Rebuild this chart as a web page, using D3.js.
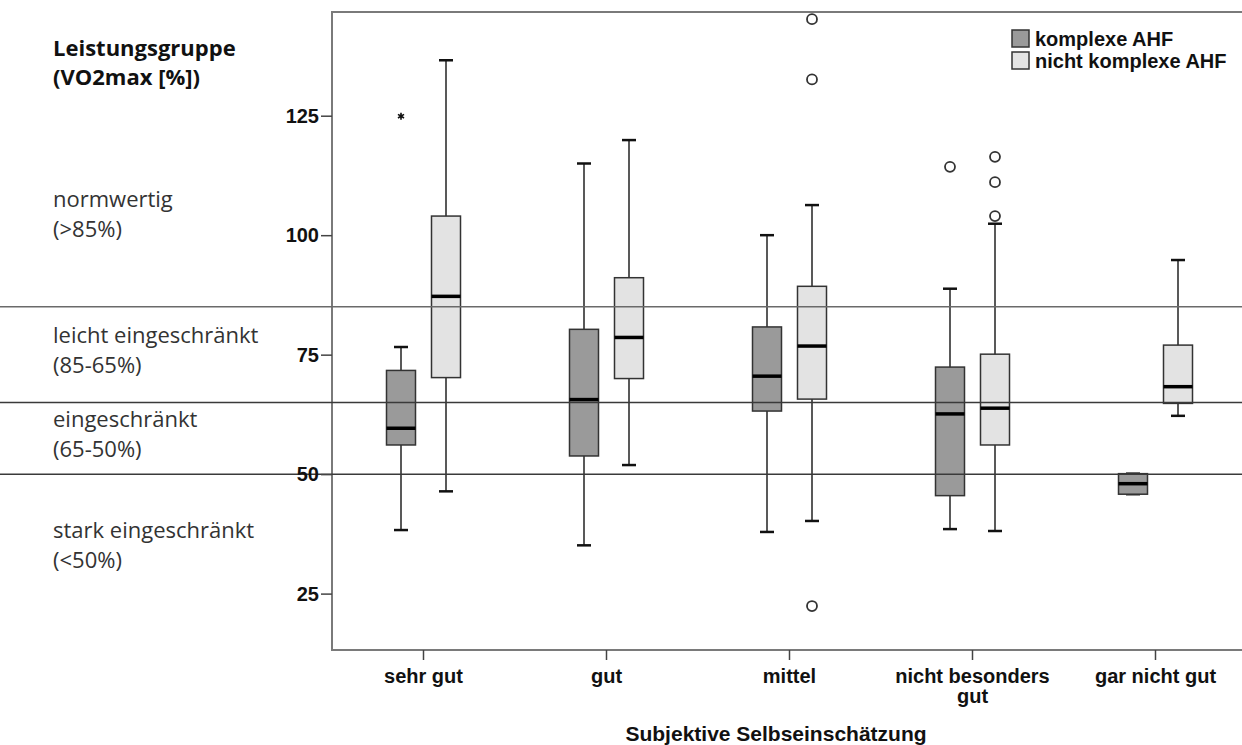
<!DOCTYPE html>
<html>
<head>
<meta charset="utf-8">
<script src="https://cdn.jsdelivr.net/npm/d3@7"></script>
<style>
body { margin: 0; background: #fff; }
</style>
</head>
<body>
<div id="chart"></div>
<script>
var categories = ["sehr gut", "gut", "mittel", "nicht besonders gut", "gar nicht gut"];
var series = ["komplexe AHF", "nicht komplexe AHF"];

// [unterer Whisker, Q1, Median, Q3, oberer Whisker]
var komplexe = [
    [38.3, 56.1, 59.6, 71.7, 76.6],
    [35.1, 53.8, 65.6, 80.3, 115.0],
    [37.9, 63.2, 70.5, 80.8, 100.0],
    [38.5, 45.5, 62.6, 72.4, 88.8],
    [45.8, 45.8, 48.0, 50.1, 50.1]
];
var nichtKomplexe = [
    [46.4, 70.2, 87.2, 104.0, 136.6],
    [51.9, 70.0, 78.6, 91.1, 119.9],
    [40.2, 65.7, 76.8, 89.3, 106.3],
    [38.1, 56.1, 63.8, 75.1, 102.4],
    [62.2, 64.8, 68.3, 77.0, 94.8]
];

var outlierCategory = ["sehr gut", "mittel", "mittel", "mittel", "nicht besonders gut", "nicht besonders gut", "nicht besonders gut", "nicht besonders gut"];
var outlierSeries = [0, 1, 1, 1, 0, 1, 1, 1];
var outlierValue = [124.9, 145.2, 132.6, 22.4, 114.3, 116.4, 111.1, 104.0];
var outlierExtreme = [true, false, false, false, false, false, false, false];

var referenceLines = [85, 65, 50];
var yTicks = [25, 50, 75, 100, 125];
var bandLabels = [
    ["normwertig", "(>85%)"],
    ["leicht eingeschränkt", "(85-65%)"],
    ["eingeschränkt", "(65-50%)"],
    ["stark eingeschränkt", "(<50%)"]
];
var bandLabelY = [207, 343, 427, 538];

var colors = ["#9a9a9a", "#e3e3e3"];

function makeChart() {
    var width = 1242, height = 745;
    var left = 332, right = 1247, top = 12, bottom = 650;

    var x = d3.scaleBand().domain(categories).range([left, right]);
    var offset = d3.scalePoint().domain(series).range([-22.5, 22.5]);
    var y = d3.scaleLinear().domain([13.2, 146.7]).range([bottom, top]);
    var boxW = 29, capW = 14;

    var svg = d3.create("svg")
        .attr("width", width)
        .attr("height", height)
        .style("font-family", "'Liberation Sans', Arial, sans-serif");

    svg.append("rect").attr("width", width).attr("height", height).attr("fill", "#fff");

    // Rahmen
    svg.append("path")
        .attr("d", "M" + right + "," + top + "H" + left + "V" + bottom + "H" + right)
        .attr("fill", "none")
        .attr("stroke", "#7a7a7a")
        .attr("stroke-width", 2);

    // Boxen
    var rows = [];
    [komplexe, nichtKomplexe].forEach(function (vals, s) {
        vals.forEach(function (v, i) {
            rows.push({ cat: categories[i], s: s, v: v });
        });
    });
    var cx = function (d) { return x(d.cat) + x.bandwidth() / 2 + offset(series[d.s]); };

    var g = svg.append("g").selectAll("g").data(rows).join("g");

    g.append("line")
        .attr("x1", cx).attr("x2", cx)
        .attr("y1", d => y(d.v[0])).attr("y2", d => y(d.v[4]))
        .attr("stroke", "#222").attr("stroke-width", 1.5);
    g.selectAll(".cap").data(d => [[d, d.v[0]], [d, d.v[4]]]).join("line")
        .attr("class", "cap")
        .attr("x1", d => cx(d[0]) - capW / 2).attr("x2", d => cx(d[0]) + capW / 2)
        .attr("y1", d => y(d[1])).attr("y2", d => y(d[1]))
        .attr("stroke", "#111").attr("stroke-width", 2.5);
    g.append("rect")
        .attr("x", d => cx(d) - boxW / 2)
        .attr("width", boxW)
        .attr("y", d => y(d.v[3]))
        .attr("height", d => y(d.v[1]) - y(d.v[3]))
        .attr("fill", d => colors[d.s])
        .attr("stroke", "#333").attr("stroke-width", 1.5);
    g.append("line")
        .attr("x1", d => cx(d) - boxW / 2).attr("x2", d => cx(d) + boxW / 2)
        .attr("y1", d => y(d.v[2])).attr("y2", d => y(d.v[2]))
        .attr("stroke", "#000").attr("stroke-width", 3.5);

    // Ausreisser
    var outliers = outlierValue.map(function (v, i) {
        return { cat: outlierCategory[i], s: outlierSeries[i], value: v, extreme: outlierExtreme[i] };
    });
    svg.append("g").selectAll("circle").data(outliers.filter(d => !d.extreme)).join("circle")
        .attr("cx", cx).attr("cy", d => y(d.value)).attr("r", 5)
        .attr("fill", "#fff").attr("stroke", "#333").attr("stroke-width", 1.8);
    svg.append("g").selectAll("path").data(outliers.filter(d => d.extreme)).join("path")
        .attr("transform", d => "translate(" + cx(d) + "," + y(d.value) + ")")
        .attr("d", d3.symbol(d3.symbolAsterisk, 34))
        .attr("fill", "none").attr("stroke", "#111").attr("stroke-width", 1.6);

    // Referenzlinien
    svg.append("g").selectAll("line").data(referenceLines).join("line")
        .attr("x1", 0).attr("x2", width)
        .attr("y1", d => y(d)).attr("y2", d => y(d))
        .attr("stroke", (d, i) => i === 0 ? "#6a6a6a" : "#3a3a3a")
        .attr("stroke-width", 1.5);

    // Achsen
    var yAxis = svg.append("g")
        .attr("transform", "translate(" + left + ",0)")
        .call(d3.axisLeft(y).tickValues(yTicks).tickSize(11).tickPadding(2));
    yAxis.select(".domain").remove();
    yAxis.selectAll("line").attr("stroke", "#444").attr("stroke-width", 1.5);
    yAxis.selectAll("text")
        .attr("font-family", "'Liberation Sans', Arial, sans-serif")
        .attr("font-size", 20).attr("font-weight", "bold").attr("fill", "#111");

    var xAxis = svg.append("g")
        .attr("transform", "translate(0," + bottom + ")")
        .call(d3.axisBottom(x).tickSize(10).tickPadding(0).tickFormat(""));
    xAxis.select(".domain").remove();
    xAxis.selectAll("line").attr("stroke", "#444").attr("stroke-width", 1.5);

    svg.append("g").selectAll("text").data(categories).join("text")
        .attr("text-anchor", "middle")
        .attr("font-size", 20).attr("font-weight", "bold").attr("fill", "#111")
        .each(function (d) {
            var parts = d === "nicht besonders gut" ? ["nicht besonders", "gut"] : [d];
            d3.select(this).selectAll("tspan").data(parts).join("tspan")
                .attr("x", x(d) + x.bandwidth() / 2)
                .attr("y", (p, i) => 683 + i * 20)
                .text(p => p);
        });

    svg.append("text")
        .attr("x", 776).attr("y", 741)
        .attr("text-anchor", "middle")
        .attr("font-size", 21).attr("font-weight", "bold").attr("fill", "#111")
        .text("Subjektive Selbseinschätzung");

    // Linke Beschriftung
    var lab = svg.append("g")
        .attr("font-family", "'Open Sans', 'Noto Sans', sans-serif")
        .attr("font-size", 22);
    lab.append("text").attr("x", 53).attr("y", 56)
        .attr("font-weight", "bold").attr("fill", "#111").text("Leistungsgruppe");
    lab.append("text").attr("x", 53).attr("y", 85)
        .attr("font-weight", "bold").attr("fill", "#111").text("(VO2max [%])");
    bandLabels.forEach(function (b, i) {
        b.forEach(function (t, j) {
            lab.append("text").attr("x", 53).attr("y", bandLabelY[i] + j * 30)
                .attr("fill", "#333").text(t);
        });
    });

    // Legende
    var leg = svg.append("g").attr("transform", "translate(1012,30)");
    var item = leg.selectAll("g").data(series).join("g")
        .attr("transform", (d, i) => "translate(0," + i * 22 + ")");
    item.append("rect")
        .attr("width", 17).attr("height", 17)
        .attr("fill", (d, i) => colors[i])
        .attr("stroke", "#333").attr("stroke-width", 1.5);
    item.append("text")
        .attr("x", 23).attr("y", 16)
        .attr("font-size", 20).attr("font-weight", "bold").attr("fill", "#111")
        .text(d => d);

    return svg.node();
}

document.getElementById("chart").append(makeChart());
</script>
</body>
</html>
